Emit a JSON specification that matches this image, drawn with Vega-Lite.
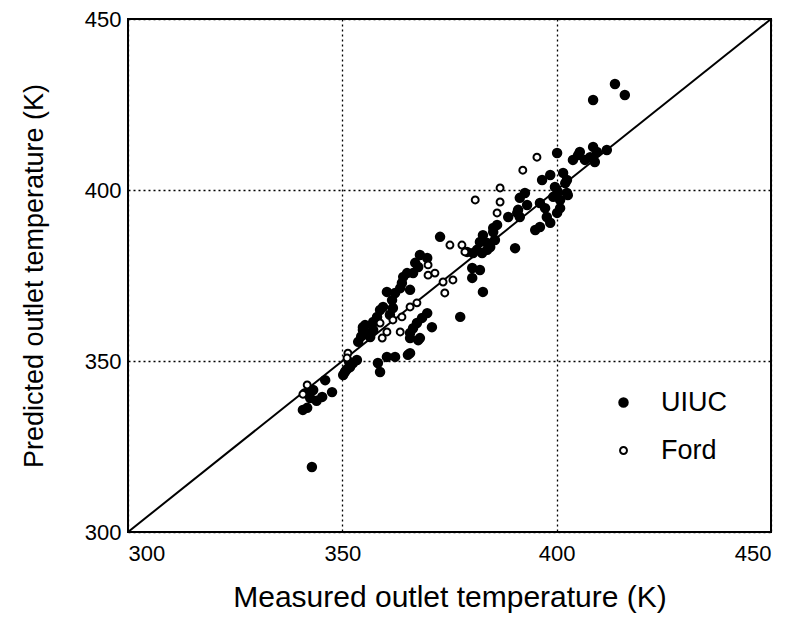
{
  "$schema": "https://vega.github.io/schema/vega-lite/v6.json",
  "width": 643,
  "height": 513,
  "autosize": {"type": "none"},
  "padding": {"left": 128, "top": 19, "right": 20, "bottom": 93},
  "background": "white",
  "config": {
    "font": "Liberation Sans",
    "view": {"stroke": "black", "strokeWidth": 2},
    "axis": {
      "grid": true, "gridColor": "black", "gridDash": [2, 3], "gridWidth": 1.3, "gridOpacity": 1,
      "ticks": false, "domain": false,
      "labelFont": "Liberation Sans", "labelFontSize": 22, "labelColor": "black",
      "titleFont": "Liberation Sans", "titleFontWeight": "normal", "titleColor": "black"
    },
    "legend": {
      "orient": "none", "legendX": 482, "legendY": 370,
      "symbolType": "circle", "symbolStrokeWidth": 2,
      "labelFontSize": 27, "labelFont": "Liberation Sans", "labelColor": "black", "labelOffset": 24,
      "rowPadding": 20
    }
  },
  "datasets": {
    "pts": [
      {"x": 342.9, "y": 319.0, "source": "UIUC"},
      {"x": 340.8, "y": 335.7, "source": "UIUC"},
      {"x": 341.8, "y": 336.3, "source": "UIUC"},
      {"x": 342.5, "y": 339.2, "source": "UIUC"},
      {"x": 341.3, "y": 340.6, "source": "UIUC"},
      {"x": 343.2, "y": 341.5, "source": "UIUC"},
      {"x": 344.0, "y": 338.4, "source": "UIUC"},
      {"x": 345.3, "y": 339.5, "source": "UIUC"},
      {"x": 347.6, "y": 340.9, "source": "UIUC"},
      {"x": 346.0, "y": 344.4, "source": "UIUC"},
      {"x": 350.2, "y": 345.9, "source": "UIUC"},
      {"x": 350.6, "y": 346.8, "source": "UIUC"},
      {"x": 351.0, "y": 347.5, "source": "UIUC"},
      {"x": 351.8, "y": 348.2, "source": "UIUC"},
      {"x": 352.5, "y": 349.4, "source": "UIUC"},
      {"x": 353.4, "y": 350.3, "source": "UIUC"},
      {"x": 351.6, "y": 349.7, "source": "UIUC"},
      {"x": 353.7, "y": 355.6, "source": "UIUC"},
      {"x": 354.4, "y": 357.2, "source": "UIUC"},
      {"x": 354.8, "y": 359.1, "source": "UIUC"},
      {"x": 355.3, "y": 360.5, "source": "UIUC"},
      {"x": 356.0, "y": 358.0, "source": "UIUC"},
      {"x": 357.2, "y": 361.4, "source": "UIUC"},
      {"x": 358.1, "y": 362.9, "source": "UIUC"},
      {"x": 357.2, "y": 359.1, "source": "UIUC"},
      {"x": 356.5, "y": 357.0, "source": "UIUC"},
      {"x": 359.5, "y": 365.8, "source": "UIUC"},
      {"x": 360.4, "y": 370.2, "source": "UIUC"},
      {"x": 361.6, "y": 367.8, "source": "UIUC"},
      {"x": 361.8, "y": 365.5, "source": "UIUC"},
      {"x": 361.1, "y": 363.5, "source": "UIUC"},
      {"x": 363.9, "y": 372.8, "source": "UIUC"},
      {"x": 364.2, "y": 374.6, "source": "UIUC"},
      {"x": 365.8, "y": 370.8, "source": "UIUC"},
      {"x": 366.5, "y": 375.7, "source": "UIUC"},
      {"x": 367.7, "y": 377.5, "source": "UIUC"},
      {"x": 368.1, "y": 381.0, "source": "UIUC"},
      {"x": 369.8, "y": 380.1, "source": "UIUC"},
      {"x": 362.3, "y": 369.9, "source": "UIUC"},
      {"x": 363.5, "y": 371.3, "source": "UIUC"},
      {"x": 365.1, "y": 375.7, "source": "UIUC"},
      {"x": 367.0, "y": 378.7, "source": "UIUC"},
      {"x": 358.8, "y": 364.9, "source": "UIUC"},
      {"x": 354.8, "y": 359.9, "source": "UIUC"},
      {"x": 360.4, "y": 351.2, "source": "UIUC"},
      {"x": 362.3, "y": 351.2, "source": "UIUC"},
      {"x": 358.3, "y": 349.4, "source": "UIUC"},
      {"x": 358.8, "y": 346.8, "source": "UIUC"},
      {"x": 365.3, "y": 351.8, "source": "UIUC"},
      {"x": 365.8, "y": 352.3, "source": "UIUC"},
      {"x": 365.8, "y": 356.7, "source": "UIUC"},
      {"x": 365.8, "y": 358.2, "source": "UIUC"},
      {"x": 366.5, "y": 359.6, "source": "UIUC"},
      {"x": 367.4, "y": 361.1, "source": "UIUC"},
      {"x": 368.6, "y": 362.6, "source": "UIUC"},
      {"x": 369.8, "y": 364.0, "source": "UIUC"},
      {"x": 368.1, "y": 356.7, "source": "UIUC"},
      {"x": 370.9, "y": 359.9, "source": "UIUC"},
      {"x": 367.7, "y": 356.1, "source": "UIUC"},
      {"x": 377.5, "y": 362.9, "source": "UIUC"},
      {"x": 372.8, "y": 386.3, "source": "UIUC"},
      {"x": 379.1, "y": 381.9, "source": "UIUC"},
      {"x": 380.5, "y": 381.6, "source": "UIUC"},
      {"x": 381.4, "y": 382.5, "source": "UIUC"},
      {"x": 382.1, "y": 384.8, "source": "UIUC"},
      {"x": 382.8, "y": 386.8, "source": "UIUC"},
      {"x": 383.8, "y": 384.5, "source": "UIUC"},
      {"x": 383.8, "y": 382.5, "source": "UIUC"},
      {"x": 384.5, "y": 383.3, "source": "UIUC"},
      {"x": 385.2, "y": 387.7, "source": "UIUC"},
      {"x": 385.6, "y": 385.4, "source": "UIUC"},
      {"x": 386.1, "y": 389.8, "source": "UIUC"},
      {"x": 388.7, "y": 392.1, "source": "UIUC"},
      {"x": 390.8, "y": 393.3, "source": "UIUC"},
      {"x": 390.3, "y": 383.0, "source": "UIUC"},
      {"x": 380.3, "y": 377.2, "source": "UIUC"},
      {"x": 382.1, "y": 376.6, "source": "UIUC"},
      {"x": 380.3, "y": 374.3, "source": "UIUC"},
      {"x": 382.8, "y": 370.2, "source": "UIUC"},
      {"x": 385.2, "y": 388.9, "source": "UIUC"},
      {"x": 382.6, "y": 381.6, "source": "UIUC"},
      {"x": 391.4, "y": 392.1, "source": "UIUC"},
      {"x": 391.0, "y": 394.2, "source": "UIUC"},
      {"x": 391.4, "y": 397.7, "source": "UIUC"},
      {"x": 392.6, "y": 399.1, "source": "UIUC"},
      {"x": 393.1, "y": 395.6, "source": "UIUC"},
      {"x": 396.1, "y": 396.2, "source": "UIUC"},
      {"x": 397.3, "y": 394.7, "source": "UIUC"},
      {"x": 397.7, "y": 392.1, "source": "UIUC"},
      {"x": 400.1, "y": 393.3, "source": "UIUC"},
      {"x": 400.8, "y": 394.7, "source": "UIUC"},
      {"x": 398.5, "y": 390.4, "source": "UIUC"},
      {"x": 396.1, "y": 389.2, "source": "UIUC"},
      {"x": 395.0, "y": 388.3, "source": "UIUC"},
      {"x": 398.5, "y": 404.4, "source": "UIUC"},
      {"x": 396.6, "y": 402.9, "source": "UIUC"},
      {"x": 401.5, "y": 405.0, "source": "UIUC"},
      {"x": 402.0, "y": 402.0, "source": "UIUC"},
      {"x": 400.3, "y": 399.4, "source": "UIUC"},
      {"x": 399.2, "y": 398.0, "source": "UIUC"},
      {"x": 402.6, "y": 398.5, "source": "UIUC"},
      {"x": 400.8, "y": 397.1, "source": "UIUC"},
      {"x": 399.6, "y": 400.9, "source": "UIUC"},
      {"x": 400.1, "y": 410.8, "source": "UIUC"},
      {"x": 403.8, "y": 408.8, "source": "UIUC"},
      {"x": 405.0, "y": 410.2, "source": "UIUC"},
      {"x": 405.4, "y": 411.1, "source": "UIUC"},
      {"x": 406.6, "y": 408.8, "source": "UIUC"},
      {"x": 407.8, "y": 409.6, "source": "UIUC"},
      {"x": 408.9, "y": 408.2, "source": "UIUC"},
      {"x": 408.5, "y": 412.6, "source": "UIUC"},
      {"x": 409.4, "y": 411.1, "source": "UIUC"},
      {"x": 411.7, "y": 411.7, "source": "UIUC"},
      {"x": 408.5, "y": 426.3, "source": "UIUC"},
      {"x": 413.6, "y": 431.0, "source": "UIUC"},
      {"x": 415.9, "y": 427.8, "source": "UIUC"},
      {"x": 402.4, "y": 402.9, "source": "UIUC"},
      {"x": 402.4, "y": 399.1, "source": "UIUC"},
      {"x": 341.8, "y": 343.0, "source": "Ford"},
      {"x": 340.8, "y": 340.3, "source": "Ford"},
      {"x": 351.3, "y": 352.3, "source": "Ford"},
      {"x": 351.1, "y": 350.9, "source": "Ford"},
      {"x": 358.8, "y": 361.1, "source": "Ford"},
      {"x": 359.3, "y": 356.7, "source": "Ford"},
      {"x": 360.4, "y": 358.5, "source": "Ford"},
      {"x": 363.5, "y": 358.5, "source": "Ford"},
      {"x": 361.8, "y": 362.0, "source": "Ford"},
      {"x": 363.9, "y": 362.9, "source": "Ford"},
      {"x": 365.8, "y": 365.8, "source": "Ford"},
      {"x": 367.4, "y": 367.0, "source": "Ford"},
      {"x": 370.0, "y": 378.1, "source": "Ford"},
      {"x": 370.0, "y": 375.1, "source": "Ford"},
      {"x": 371.6, "y": 375.7, "source": "Ford"},
      {"x": 373.5, "y": 373.1, "source": "Ford"},
      {"x": 375.8, "y": 373.7, "source": "Ford"},
      {"x": 373.9, "y": 369.9, "source": "Ford"},
      {"x": 375.1, "y": 383.9, "source": "Ford"},
      {"x": 377.9, "y": 383.9, "source": "Ford"},
      {"x": 378.6, "y": 381.9, "source": "Ford"},
      {"x": 381.0, "y": 397.1, "source": "Ford"},
      {"x": 386.8, "y": 396.5, "source": "Ford"},
      {"x": 386.1, "y": 393.3, "source": "Ford"},
      {"x": 386.8, "y": 400.6, "source": "Ford"},
      {"x": 392.1, "y": 405.8, "source": "Ford"},
      {"x": 395.4, "y": 409.6, "source": "Ford"}
    ],
    "diag": [
      {"x": 300, "y": 300},
      {"x": 450, "y": 450}
    ]
  },
  "layer": [
    {
      "data": {"name": "diag"},
      "mark": {"type": "line", "color": "black", "strokeWidth": 2, "clip": true},
      "encoding": {
        "x": {"field": "x", "type": "quantitative"},
        "y": {"field": "y", "type": "quantitative"}
      }
    },
    {
      "data": {"name": "pts"},
      "mark": {"type": "point", "shape": "circle", "filled": false, "strokeWidth": 2, "opacity": 1, "fillOpacity": 1, "strokeOpacity": 1},
      "encoding": {
        "x": {
          "field": "x", "type": "quantitative",
          "scale": {"domain": [300, 450], "nice": false, "zero": false},
          "axis": {"values": [300, 350, 400, 450], "title": "Measured outlet temperature (K)", "titleFontSize": 30, "labelPadding": 11, "titlePadding": 18}
        },
        "y": {
          "field": "y", "type": "quantitative",
          "scale": {"domain": [300, 450], "nice": false, "zero": false},
          "axis": {"values": [300, 350, 400, 450], "title": "Predicted outlet temperature (K)", "titleFontSize": 27, "labelPadding": 7, "titlePadding": 36}
        },
        "fill": {
          "field": "source", "type": "nominal",
          "scale": {"domain": ["UIUC", "Ford"], "range": ["black", "white"]},
          "legend": {"title": null}
        },
        "stroke": {
          "field": "source", "type": "nominal",
          "scale": {"domain": ["UIUC", "Ford"], "range": ["black", "black"]},
          "legend": {"title": null}
        },
        "size": {
          "field": "source", "type": "nominal",
          "scale": {"domain": ["UIUC", "Ford"], "range": [72, 48]},
          "legend": {"title": null}
        }
      }
    }
  ]
}
